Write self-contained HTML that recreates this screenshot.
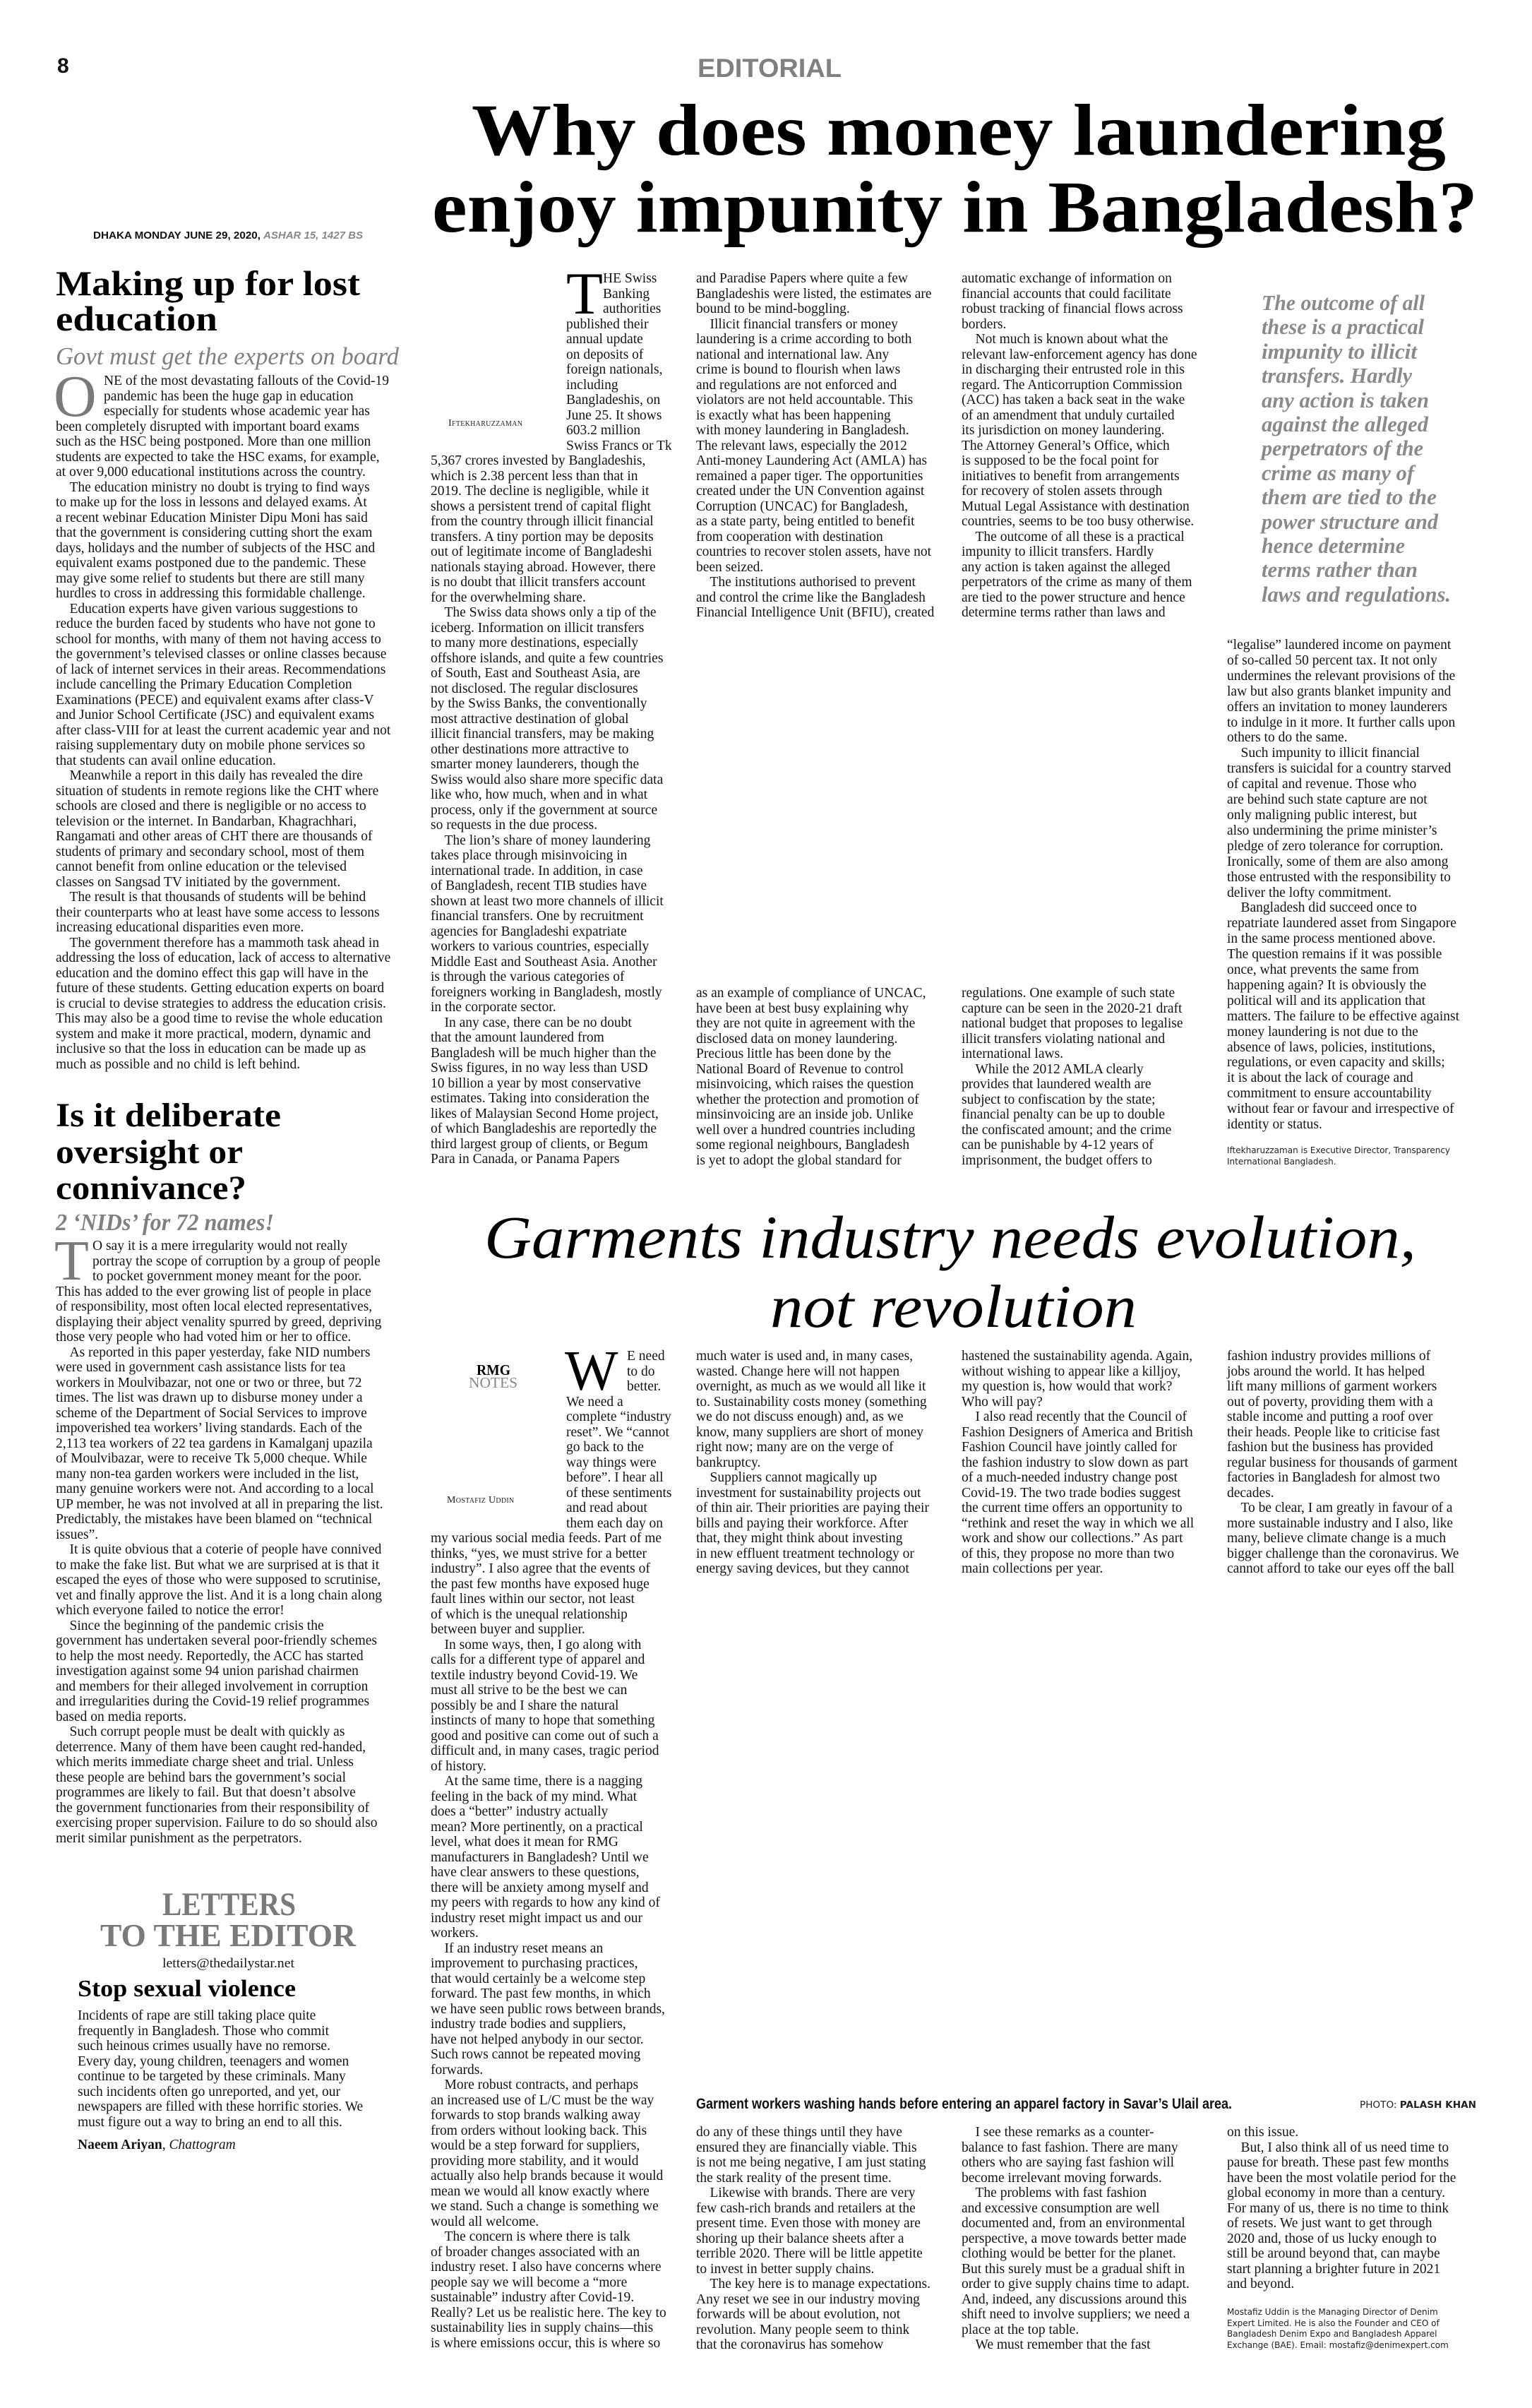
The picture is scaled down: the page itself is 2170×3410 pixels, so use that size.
<!DOCTYPE html>
<html><head><meta charset="utf-8">
<style>
html,body{margin:0;padding:0;background:#fff;}
body{width:2170px;height:3410px;position:relative;overflow:hidden;font-family:"Liberation Serif",serif;color:#141414;}
.c{position:absolute;white-space:pre;font-size:19.5px;line-height:21.5px;font-family:"Liberation Serif",serif;color:#141414;}
.c4{line-height:21.9px;}
svg{position:absolute;left:0;top:0;}
.bio{position:absolute;white-space:pre;font-family:"DejaVu Sans","Liberation Sans",sans-serif;font-size:12px;line-height:15.6px;color:#222;}
.by{position:absolute;font-family:"Liberation Serif",serif;font-size:14px;font-variant:small-caps;letter-spacing:0.3px;color:#222;}
</style></head><body>

<svg width="2170" height="3410" xmlns="http://www.w3.org/2000/svg">
<g font-family="Liberation Sans, sans-serif" font-weight="bold">
<text x="81" y="103" font-size="30" fill="#111">8</text>
<text x="988" y="109" font-size="37" fill="#808080" textLength="204" lengthAdjust="spacingAndGlyphs">EDITORIAL</text>
<text x="132" y="338" font-size="15" fill="#111" textLength="237" lengthAdjust="spacingAndGlyphs">DHAKA MONDAY JUNE 29, 2020,</text>
<text x="373" y="338" font-size="15" fill="#888" font-style="italic" textLength="141" lengthAdjust="spacingAndGlyphs">ASHAR 15, 1427 BS</text>
<text x="986" y="2986" font-size="21" fill="#111" textLength="759" lengthAdjust="spacingAndGlyphs">Garment workers washing hands before entering an apparel factory in Savar’s Ulail area.</text>
</g>
<text x="1926" y="2985" font-family="DejaVu Sans, sans-serif" font-size="13" fill="#222" textLength="165" lengthAdjust="spacingAndGlyphs">PHOTO: <tspan font-weight="bold">PALASH KHAN</tspan></text>

<g font-family="Liberation Serif, serif" font-weight="bold" fill="#000">
<text x="668" y="219" font-size="104" textLength="1380" lengthAdjust="spacingAndGlyphs">Why does money laundering</text>
<text x="612" y="328" font-size="104" textLength="1481" lengthAdjust="spacingAndGlyphs">enjoy impunity in Bangladesh?</text>
<text x="79" y="418" font-size="50" textLength="431" lengthAdjust="spacingAndGlyphs">Making up for lost</text>
<text x="79" y="468" font-size="50" textLength="229" lengthAdjust="spacingAndGlyphs">education</text>
<text x="79" y="1595" font-size="48" textLength="319" lengthAdjust="spacingAndGlyphs">Is it deliberate</text>
<text x="79" y="1647" font-size="48" textLength="265" lengthAdjust="spacingAndGlyphs">oversight or</text>
<text x="79" y="1698" font-size="48" textLength="270" lengthAdjust="spacingAndGlyphs">connivance?</text>
<text x="110" y="2827" font-size="34" textLength="309" lengthAdjust="spacingAndGlyphs">Stop sexual violence</text>
<text x="675" y="1947" font-size="21" textLength="48" lengthAdjust="spacingAndGlyphs">RMG</text>
</g>
<g font-family="Liberation Serif, serif" font-weight="bold" fill="#7a7a7a">
<text x="230" y="2712" font-size="47" textLength="189" lengthAdjust="spacingAndGlyphs">LETTERS</text>
<text x="142" y="2756" font-size="46" textLength="362" lengthAdjust="spacingAndGlyphs">TO THE EDITOR</text>
</g>
<text x="664" y="1965" font-family="Liberation Serif, serif" font-size="21" fill="#888" textLength="69" lengthAdjust="spacingAndGlyphs">NOTES</text>
<g font-family="Liberation Serif, serif" font-style="italic" fill="#808080">
<text x="79" y="516" font-size="35" textLength="486" lengthAdjust="spacingAndGlyphs">Govt must get the experts on board</text>
<text x="79" y="1742" font-size="34" font-weight="bold" textLength="309" lengthAdjust="spacingAndGlyphs">2 ‘NIDs’ for 72 names!</text>
</g>
<g font-family="Liberation Serif, serif" font-style="italic" fill="#000">
<text x="686" y="1781" font-size="86" textLength="1320" lengthAdjust="spacingAndGlyphs">Garments industry needs evolution,</text>
<text x="1091" y="1879" font-size="86" textLength="519" lengthAdjust="spacingAndGlyphs">not revolution</text>
</g>
<g font-family="Liberation Serif, serif" font-style="italic" font-weight="bold" fill="#8a8a8a" font-size="31">
<text x="1787" y="439" textLength="231" lengthAdjust="spacingAndGlyphs">The outcome of all</text>
<text x="1787" y="473" textLength="230" lengthAdjust="spacingAndGlyphs">these is a practical</text>
<text x="1787" y="508" textLength="220" lengthAdjust="spacingAndGlyphs">impunity to illicit</text>
<text x="1787" y="542" textLength="213" lengthAdjust="spacingAndGlyphs">transfers. Hardly</text>
<text x="1787" y="577" textLength="237" lengthAdjust="spacingAndGlyphs">any action is taken</text>
<text x="1787" y="611" textLength="236" lengthAdjust="spacingAndGlyphs">against the alleged</text>
<text x="1787" y="645" textLength="229" lengthAdjust="spacingAndGlyphs">perpetrators of the</text>
<text x="1787" y="680" textLength="216" lengthAdjust="spacingAndGlyphs">crime as many of</text>
<text x="1787" y="714" textLength="248" lengthAdjust="spacingAndGlyphs">them are tied to the</text>
<text x="1787" y="749" textLength="250" lengthAdjust="spacingAndGlyphs">power structure and</text>
<text x="1787" y="783" textLength="203" lengthAdjust="spacingAndGlyphs">hence determine</text>
<text x="1787" y="817" textLength="221" lengthAdjust="spacingAndGlyphs">terms rather than</text>
<text x="1787" y="852" textLength="268" lengthAdjust="spacingAndGlyphs">laws and regulations.</text>
</g>
<g font-family="Liberation Serif, serif">
<text x="76" y="589" font-size="84" fill="#7a7a7a">O</text>
<text x="77" y="1812" font-size="80" fill="#7a7a7a">T</text>
<text x="802" y="444" font-size="85" fill="#000">T</text>
<text x="800" y="1968" font-size="80" fill="#000">W</text>
</g>
<text x="230" y="2786" font-family="Liberation Serif, serif" font-size="19" fill="#141414" textLength="187" lengthAdjust="spacingAndGlyphs">letters@thedailystar.net</text>
</svg>

<div class="by" style="left:635px;top:592px;">Iftekharuzzaman</div>
<div class="by" style="left:633px;top:2117px;">Mostafiz Uddin</div>

<!-- Left column story 1 -->
<div class="c" style="left:147px;top:529px;">NE of the most devastating fallouts of the Covid-19
pandemic has been the huge gap in education
especially for students whose academic year has</div>
<div class="c" style="left:79px;top:593.5px;">been completely disrupted with important board exams
such as the HSC being postponed. More than one million
students are expected to take the HSC exams, for example,
at over 9,000 educational institutions across the country.
&emsp;The education ministry no doubt is trying to find ways
to make up for the loss in lessons and delayed exams. At
a recent webinar Education Minister Dipu Moni has said
that the government is considering cutting short the exam
days, holidays and the number of subjects of the HSC and
equivalent exams postponed due to the pandemic. These
may give some relief to students but there are still many
hurdles to cross in addressing this formidable challenge.
&emsp;Education experts have given various suggestions to
reduce the burden faced by students who have not gone to
school for months, with many of them not having access to
the government’s televised classes or online classes because
of lack of internet services in their areas. Recommendations
include cancelling the Primary Education Completion
Examinations (PECE) and equivalent exams after class-V
and Junior School Certificate (JSC) and equivalent exams
after class-VIII for at least the current academic year and not
raising supplementary duty on mobile phone services so
that students can avail online education.
&emsp;Meanwhile a report in this daily has revealed the dire
situation of students in remote regions like the CHT where
schools are closed and there is negligible or no access to
television or the internet. In Bandarban, Khagrachhari,
Rangamati and other areas of CHT there are thousands of
students of primary and secondary school, most of them
cannot benefit from online education or the televised
classes on Sangsad TV initiated by the government.
&emsp;The result is that thousands of students will be behind
their counterparts who at least have some access to lessons
increasing educational disparities even more.
&emsp;The government therefore has a mammoth task ahead in
addressing the loss of education, lack of access to alternative
education and the domino effect this gap will have in the
future of these students. Getting education experts on board
is crucial to devise strategies to address the education crisis.
This may also be a good time to revise the whole education
system and make it more practical, modern, dynamic and
inclusive so that the loss in education can be made up as
much as possible and no child is left behind.</div>

<!-- Left column story 2 -->
<div class="c" style="left:131px;top:1754px;">O say it is a mere irregularity would not really
portray the scope of corruption by a group of people
to pocket government money meant for the poor.</div>
<div class="c" style="left:79px;top:1818.5px;">This has added to the ever growing list of people in place
of responsibility, most often local elected representatives,
displaying their abject venality spurred by greed, depriving
those very people who had voted him or her to office.
&emsp;As reported in this paper yesterday, fake NID numbers
were used in government cash assistance lists for tea
workers in Moulvibazar, not one or two or three, but 72
times. The list was drawn up to disburse money under a
scheme of the Department of Social Services to improve
impoverished tea workers’ living standards. Each of the
2,113 tea workers of 22 tea gardens in Kamalganj upazila
of Moulvibazar, were to receive Tk 5,000 cheque. While
many non-tea garden workers were included in the list,
many genuine workers were not. And according to a local
UP member, he was not involved at all in preparing the list.
Predictably, the mistakes have been blamed on “technical
issues”.
&emsp;It is quite obvious that a coterie of people have connived
to make the fake list. But what we are surprised at is that it
escaped the eyes of those who were supposed to scrutinise,
vet and finally approve the list. And it is a long chain along
which everyone failed to notice the error!
&emsp;Since the beginning of the pandemic crisis the
government has undertaken several poor-friendly schemes
to help the most needy. Reportedly, the ACC has started
investigation against some 94 union parishad chairmen
and members for their alleged involvement in corruption
and irregularities during the Covid-19 relief programmes
based on media reports.
&emsp;Such corrupt people must be dealt with quickly as
deterrence. Many of them have been caught red-handed,
which merits immediate charge sheet and trial. Unless
these people are behind bars the government’s social
programmes are likely to fail. But that doesn’t absolve
the government functionaries from their responsibility of
exercising proper supervision. Failure to do so should also
merit similar punishment as the perpetrators.</div>

<!-- Letters -->
<div class="c" style="left:110px;top:2844px;">Incidents of rape are still taking place quite
frequently in Bangladesh. Those who commit
such heinous crimes usually have no remorse.
Every day, young children, teenagers and women
continue to be targeted by these criminals. Many
such incidents often go unreported, and yet, our
newspapers are filled with these horrific stories. We
must figure out a way to bring an end to all this.</div>
<div class="c" style="left:110px;top:3027px;"><b>Naeem Ariyan</b>, <i>Chattogram</i></div>

<!-- Article 1 col1 -->
<div class="c" style="left:854px;top:384px;">HE Swiss
Banking
authorities</div>
<div class="c" style="left:802px;top:448.5px;">published their
annual update
on deposits of
foreign nationals,
including
Bangladeshis, on
June 25. It shows
603.2 million
Swiss Francs or Tk</div>
<div class="c" style="left:610px;top:642px;">5,367 crores invested by Bangladeshis,
which is 2.38 percent less than that in
2019. The decline is negligible, while it
shows a persistent trend of capital flight
from the country through illicit financial
transfers. A tiny portion may be deposits
out of legitimate income of Bangladeshi
nationals staying abroad. However, there
is no doubt that illicit transfers account
for the overwhelming share.
&emsp;The Swiss data shows only a tip of the
iceberg. Information on illicit transfers
to many more destinations, especially
offshore islands, and quite a few countries
of South, East and Southeast Asia, are
not disclosed. The regular disclosures
by the Swiss Banks, the conventionally
most attractive destination of global
illicit financial transfers, may be making
other destinations more attractive to
smarter money launderers, though the
Swiss would also share more specific data
like who, how much, when and in what
process, only if the government at source
so requests in the due process.
&emsp;The lion’s share of money laundering
takes place through misinvoicing in
international trade. In addition, in case
of Bangladesh, recent TIB studies have
shown at least two more channels of illicit
financial transfers. One by recruitment
agencies for Bangladeshi expatriate
workers to various countries, especially
Middle East and Southeast Asia. Another
is through the various categories of
foreigners working in Bangladesh, mostly
in the corporate sector.
&emsp;In any case, there can be no doubt
that the amount laundered from
Bangladesh will be much higher than the
Swiss figures, in no way less than USD
10 billion a year by most conservative
estimates. Taking into consideration the
likes of Malaysian Second Home project,
of which Bangladeshis are reportedly the
third largest group of clients, or Begum
Para in Canada, or Panama Papers</div>

<!-- Article 1 col2 -->
<div class="c" style="left:986px;top:384px;">and Paradise Papers where quite a few
Bangladeshis were listed, the estimates are
bound to be mind-boggling.
&emsp;Illicit financial transfers or money
laundering is a crime according to both
national and international law. Any
crime is bound to flourish when laws
and regulations are not enforced and
violators are not held accountable. This
is exactly what has been happening
with money laundering in Bangladesh.
The relevant laws, especially the 2012
Anti-money Laundering Act (AMLA) has
remained a paper tiger. The opportunities
created under the UN Convention against
Corruption (UNCAC) for Bangladesh,
as a state party, being entitled to benefit
from cooperation with destination
countries to recover stolen assets, have not
been seized.
&emsp;The institutions authorised to prevent
and control the crime like the Bangladesh
Financial Intelligence Unit (BFIU), created</div>
<div class="c" style="left:986px;top:1396px;">as an example of compliance of UNCAC,
have been at best busy explaining why
they are not quite in agreement with the
disclosed data on money laundering.
Precious little has been done by the
National Board of Revenue to control
misinvoicing, which raises the question
whether the protection and promotion of
minsinvoicing are an inside job. Unlike
well over a hundred countries including
some regional neighbours, Bangladesh
is yet to adopt the global standard for</div>

<!-- Article 1 col3 -->
<div class="c" style="left:1362px;top:384px;">automatic exchange of information on
financial accounts that could facilitate
robust tracking of financial flows across
borders.
&emsp;Not much is known about what the
relevant law-enforcement agency has done
in discharging their entrusted role in this
regard. The Anticorruption Commission
(ACC) has taken a back seat in the wake
of an amendment that unduly curtailed
its jurisdiction on money laundering.
The Attorney General’s Office, which
is supposed to be the focal point for
initiatives to benefit from arrangements
for recovery of stolen assets through
Mutual Legal Assistance with destination
countries, seems to be too busy otherwise.
&emsp;The outcome of all these is a practical
impunity to illicit transfers. Hardly
any action is taken against the alleged
perpetrators of the crime as many of them
are tied to the power structure and hence
determine terms rather than laws and</div>
<div class="c" style="left:1362px;top:1396px;">regulations. One example of such state
capture can be seen in the 2020-21 draft
national budget that proposes to legalise
illicit transfers violating national and
international laws.
&emsp;While the 2012 AMLA clearly
provides that laundered wealth are
subject to confiscation by the state;
financial penalty can be up to double
the confiscated amount; and the crime
can be punishable by 4-12 years of
imprisonment, the budget offers to</div>

<!-- Article 1 col4 -->
<div class="c c4" style="left:1738px;top:903px;">“legalise” laundered income on payment
of so-called 50 percent tax. It not only
undermines the relevant provisions of the
law but also grants blanket impunity and
offers an invitation to money launderers
to indulge in it more. It further calls upon
others to do the same.
&emsp;Such impunity to illicit financial
transfers is suicidal for a country starved
of capital and revenue. Those who
are behind such state capture are not
only maligning public interest, but
also undermining the prime minister’s
pledge of zero tolerance for corruption.
Ironically, some of them are also among
those entrusted with the responsibility to
deliver the lofty commitment.
&emsp;Bangladesh did succeed once to
repatriate laundered asset from Singapore
in the same process mentioned above.
The question remains if it was possible
once, what prevents the same from
happening again? It is obviously the
political will and its application that
matters. The failure to be effective against
money laundering is not due to the
absence of laws, policies, institutions,
regulations, or even capacity and skills;
it is about the lack of courage and
commitment to ensure accountability
without fear or favour and irrespective of
identity or status.</div>
<div class="bio" style="left:1738px;top:1622px;">Iftekharuzzaman is Executive Director, Transparency
International Bangladesh.</div>

<!-- Garments col1 -->
<div class="c" style="left:888px;top:1910px;">E need
to do
better.</div>
<div class="c" style="left:802px;top:1974.5px;">We need a
complete “industry
reset”. We “cannot
go back to the
way things were
before”. I hear all
of these sentiments
and read about
them each day on</div>
<div class="c" style="left:610px;top:2168px;">my various social media feeds. Part of me
thinks, “yes, we must strive for a better
industry”. I also agree that the events of
the past few months have exposed huge
fault lines within our sector, not least
of which is the unequal relationship
between buyer and supplier.
&emsp;In some ways, then, I go along with
calls for a different type of apparel and
textile industry beyond Covid-19. We
must all strive to be the best we can
possibly be and I share the natural
instincts of many to hope that something
good and positive can come out of such a
difficult and, in many cases, tragic period
of history.
&emsp;At the same time, there is a nagging
feeling in the back of my mind. What
does a “better” industry actually
mean? More pertinently, on a practical
level, what does it mean for RMG
manufacturers in Bangladesh? Until we
have clear answers to these questions,
there will be anxiety among myself and
my peers with regards to how any kind of
industry reset might impact us and our
workers.
&emsp;If an industry reset means an
improvement to purchasing practices,
that would certainly be a welcome step
forward. The past few months, in which
we have seen public rows between brands,
industry trade bodies and suppliers,
have not helped anybody in our sector.
Such rows cannot be repeated moving
forwards.
&emsp;More robust contracts, and perhaps
an increased use of L/C must be the way
forwards to stop brands walking away
from orders without looking back. This
would be a step forward for suppliers,
providing more stability, and it would
actually also help brands because it would
mean we would all know exactly where
we stand. Such a change is something we
would all welcome.
&emsp;The concern is where there is talk
of broader changes associated with an
industry reset. I also have concerns where
people say we will become a “more
sustainable” industry after Covid-19.
Really? Let us be realistic here. The key to
sustainability lies in supply chains—this
is where emissions occur, this is where so</div>

<!-- Garments col2 -->
<div class="c" style="left:986px;top:1910px;">much water is used and, in many cases,
wasted. Change here will not happen
overnight, as much as we would all like it
to. Sustainability costs money (something
we do not discuss enough) and, as we
know, many suppliers are short of money
right now; many are on the verge of
bankruptcy.
&emsp;Suppliers cannot magically up
investment for sustainability projects out
of thin air. Their priorities are paying their
bills and paying their workforce. After
that, they might think about investing
in new effluent treatment technology or
energy saving devices, but they cannot</div>
<div class="c" style="left:986px;top:3009px;">do any of these things until they have
ensured they are financially viable. This
is not me being negative, I am just stating
the stark reality of the present time.
&emsp;Likewise with brands. There are very
few cash-rich brands and retailers at the
present time. Even those with money are
shoring up their balance sheets after a
terrible 2020. There will be little appetite
to invest in better supply chains.
&emsp;The key here is to manage expectations.
Any reset we see in our industry moving
forwards will be about evolution, not
revolution. Many people seem to think
that the coronavirus has somehow</div>

<!-- Garments col3 -->
<div class="c" style="left:1362px;top:1910px;">hastened the sustainability agenda. Again,
without wishing to appear like a killjoy,
my question is, how would that work?
Who will pay?
&emsp;I also read recently that the Council of
Fashion Designers of America and British
Fashion Council have jointly called for
the fashion industry to slow down as part
of a much-needed industry change post
Covid-19. The two trade bodies suggest
the current time offers an opportunity to
“rethink and reset the way in which we all
work and show our collections.” As part
of this, they propose no more than two
main collections per year.</div>
<div class="c" style="left:1362px;top:3009px;">&emsp;I see these remarks as a counter-
balance to fast fashion. There are many
others who are saying fast fashion will
become irrelevant moving forwards.
&emsp;The problems with fast fashion
and excessive consumption are well
documented and, from an environmental
perspective, a move towards better made
clothing would be better for the planet.
But this surely must be a gradual shift in
order to give supply chains time to adapt.
And, indeed, any discussions around this
shift need to involve suppliers; we need a
place at the top table.
&emsp;We must remember that the fast</div>

<!-- Garments col4 -->
<div class="c" style="left:1738px;top:1910px;">fashion industry provides millions of
jobs around the world. It has helped
lift many millions of garment workers
out of poverty, providing them with a
stable income and putting a roof over
their heads. People like to criticise fast
fashion but the business has provided
regular business for thousands of garment
factories in Bangladesh for almost two
decades.
&emsp;To be clear, I am greatly in favour of a
more sustainable industry and I also, like
many, believe climate change is a much
bigger challenge than the coronavirus. We
cannot afford to take our eyes off the ball</div>
<div class="c" style="left:1738px;top:3009px;">on this issue.
&emsp;But, I also think all of us need time to
pause for breath. These past few months
have been the most volatile period for the
global economy in more than a century.
For many of us, there is no time to think
of resets. We just want to get through
2020 and, those of us lucky enough to
still be around beyond that, can maybe
start planning a brighter future in 2021
and beyond.</div>
<div class="bio" style="left:1738px;top:3267px;">Mostafiz Uddin is the Managing Director of Denim
Expert Limited. He is also the Founder and CEO of
Bangladesh Denim Expo and Bangladesh Apparel
Exchange (BAE). Email: mostafiz@denimexpert.com</div>

</body></html>
